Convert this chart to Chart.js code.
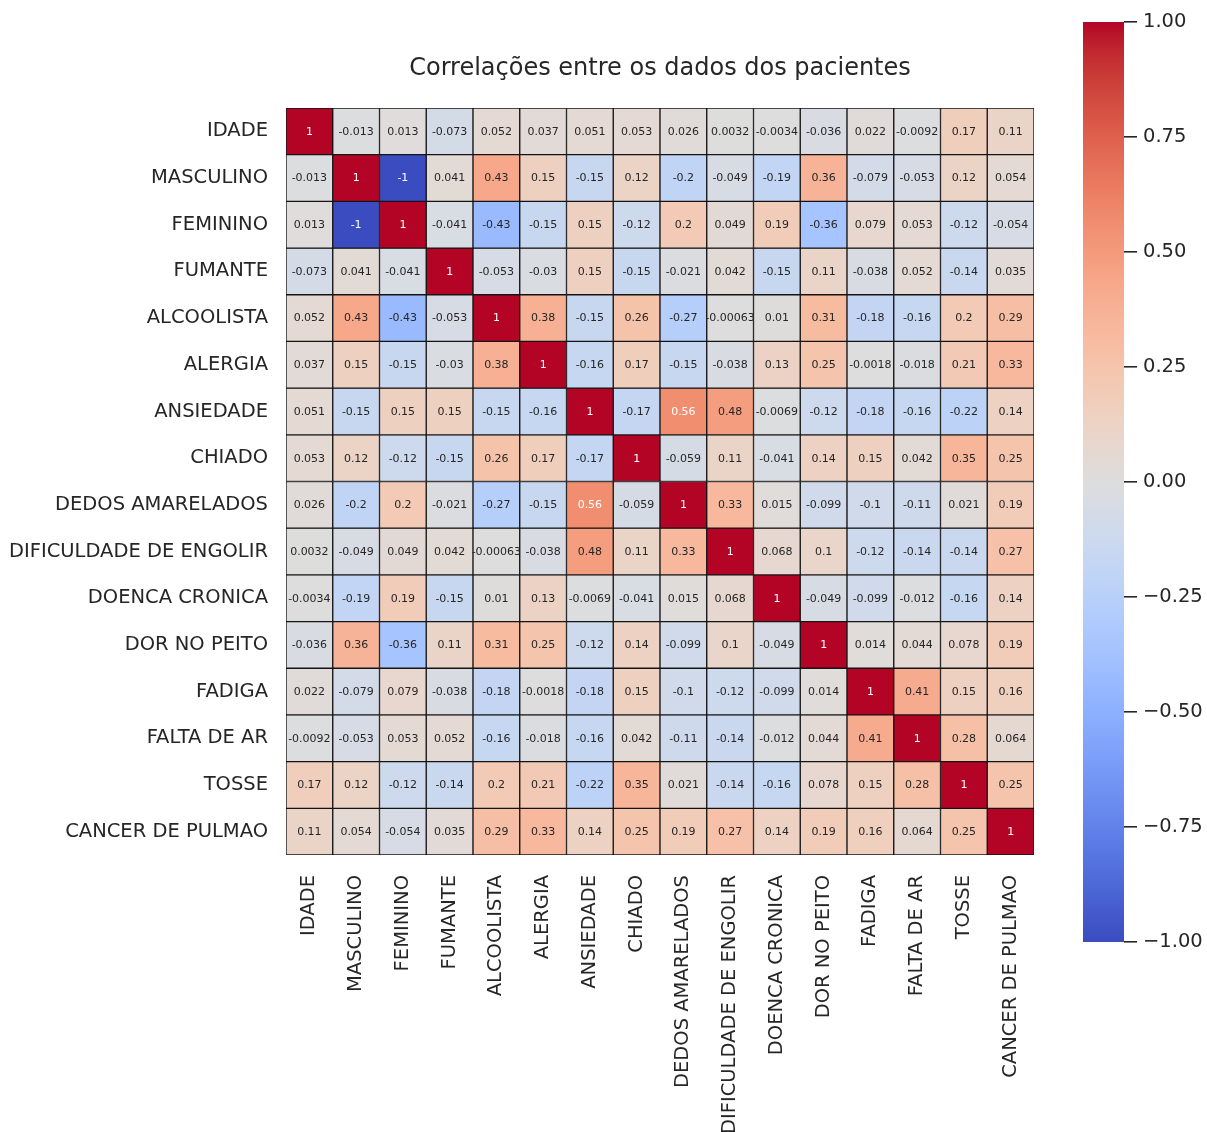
<!DOCTYPE html>
<html lang="pt">
<head>
<meta charset="utf-8">
<title>Correlações entre os dados dos pacientes</title>
<script src="https://cdn.jsdelivr.net/npm/chart.js@4.4.1/dist/chart.umd.min.js"></script>
<style>
  html, body { margin: 0; padding: 0; background: #ffffff; }
  #wrap { position: relative; width: 1207px; height: 1132px; overflow: hidden; background: #ffffff; }
  #heat { position: absolute; left: 0; top: 0; }
  #cbar { position: absolute; left: 1040px; top: 0; }
</style>
</head>
<body>
<div id="wrap">
  <canvas id="heat" width="1207" height="1132"></canvas>
  <canvas id="cbar" width="167" height="970"></canvas>
</div>
<script>
// Variables of the patient data set (row / column order of the matrix)
const variables = [
  'IDADE', 'MASCULINO', 'FEMININO', 'FUMANTE', 'ALCOOLISTA', 'ALERGIA',
  'ANSIEDADE', 'CHIADO', 'DEDOS AMARELADOS', 'DIFICULDADE DE ENGOLIR',
  'DOENCA CRONICA', 'DOR NO PEITO', 'FADIGA', 'FALTA DE AR', 'TOSSE',
  'CANCER DE PULMAO'
];

// Pearson correlations, one row per variable
const idade       = [1, -0.013, 0.013, -0.073, 0.052, 0.037, 0.051, 0.053, 0.026, 0.0032, -0.0034, -0.036, 0.022, -0.0092, 0.17, 0.11];
const masculino   = [-0.013, 1, -1, 0.041, 0.43, 0.15, -0.15, 0.12, -0.2, -0.049, -0.19, 0.36, -0.079, -0.053, 0.12, 0.054];
const feminino    = [0.013, -1, 1, -0.041, -0.43, -0.15, 0.15, -0.12, 0.2, 0.049, 0.19, -0.36, 0.079, 0.053, -0.12, -0.054];
const fumante     = [-0.073, 0.041, -0.041, 1, -0.053, -0.03, 0.15, -0.15, -0.021, 0.042, -0.15, 0.11, -0.038, 0.052, -0.14, 0.035];
const alcoolista  = [0.052, 0.43, -0.43, -0.053, 1, 0.38, -0.15, 0.26, -0.27, -0.00063, 0.01, 0.31, -0.18, -0.16, 0.2, 0.29];
const alergia     = [0.037, 0.15, -0.15, -0.03, 0.38, 1, -0.16, 0.17, -0.15, -0.038, 0.13, 0.25, -0.0018, -0.018, 0.21, 0.33];
const ansiedade   = [0.051, -0.15, 0.15, 0.15, -0.15, -0.16, 1, -0.17, 0.56, 0.48, -0.0069, -0.12, -0.18, -0.16, -0.22, 0.14];
const chiado      = [0.053, 0.12, -0.12, -0.15, 0.26, 0.17, -0.17, 1, -0.059, 0.11, -0.041, 0.14, 0.15, 0.042, 0.35, 0.25];
const dedos       = [0.026, -0.2, 0.2, -0.021, -0.27, -0.15, 0.56, -0.059, 1, 0.33, 0.015, -0.099, -0.1, -0.11, 0.021, 0.19];
const dificuldade = [0.0032, -0.049, 0.049, 0.042, -0.00063, -0.038, 0.48, 0.11, 0.33, 1, 0.068, 0.1, -0.12, -0.14, -0.14, 0.27];
const doenca      = [-0.0034, -0.19, 0.19, -0.15, 0.01, 0.13, -0.0069, -0.041, 0.015, 0.068, 1, -0.049, -0.099, -0.012, -0.16, 0.14];
const dorPeito    = [-0.036, 0.36, -0.36, 0.11, 0.31, 0.25, -0.12, 0.14, -0.099, 0.1, -0.049, 1, 0.014, 0.044, 0.078, 0.19];
const fadiga      = [0.022, -0.079, 0.079, -0.038, -0.18, -0.0018, -0.18, 0.15, -0.1, -0.12, -0.099, 0.014, 1, 0.41, 0.15, 0.16];
const faltaAr     = [-0.0092, -0.053, 0.053, 0.052, -0.16, -0.018, -0.16, 0.042, -0.11, -0.14, -0.012, 0.044, 0.41, 1, 0.28, 0.064];
const tosse       = [0.17, 0.12, -0.12, -0.14, 0.2, 0.21, -0.22, 0.35, 0.021, -0.14, -0.16, 0.078, 0.15, 0.28, 1, 0.25];
const cancer      = [0.11, 0.054, -0.054, 0.035, 0.29, 0.33, 0.14, 0.25, 0.19, 0.27, 0.14, 0.19, 0.16, 0.064, 0.25, 1];

const matrix = [idade, masculino, feminino, fumante, alcoolista, alergia, ansiedade, chiado,
                dedos, dificuldade, doenca, dorPeito, fadiga, faltaAr, tosse, cancer];

// Colour bar range and ticks
const colorbarTicks = [-1, -0.75, -0.5, -0.25, 0, 0.25, 0.5, 0.75, 1];

// Diverging "coolwarm" colour map (33 control colours, low -> high)
const COOLWARM = [
  [59,76,192],[68,90,204],[77,104,215],[87,117,225],[98,130,234],[108,142,241],
  [119,154,247],[130,165,251],[141,176,254],[152,185,255],[163,194,255],[174,201,253],
  [184,208,249],[194,213,244],[204,217,238],[213,219,230],[221,221,221],[229,216,209],
  [236,211,197],[241,204,184],[245,196,172],[247,187,160],[247,177,148],[247,166,137],
  [244,154,123],[241,141,112],[236,127,99],[229,112,88],[222,96,77],[213,80,66],
  [203,62,56],[192,40,47],[180,4,38]
];

function coolwarmRGB(v) {
  const t = Math.min(1, Math.max(0, (v + 1) / 2)) * (COOLWARM.length - 1);
  const i = Math.min(Math.floor(t), COOLWARM.length - 2);
  const f = t - i;
  const a = COOLWARM[i], b = COOLWARM[i + 1];
  return a.map((c, k) => Math.round(c + (b[k] - c) * f));
}
function coolwarm(v) {
  const [r, g, b] = coolwarmRGB(v);
  return `rgb(${r},${g},${b})`;
}
// Light text on dark cells, dark text on light cells
function annotationColor(v) {
  const lum = coolwarmRGB(v).map(c => {
    const s = c / 255;
    return s <= 0.03928 ? s / 12.92 : Math.pow((s + 0.055) / 1.055, 2.4);
  });
  const L = 0.2126 * lum[0] + 0.7152 * lum[1] + 0.0722 * lum[2];
  return L > 0.408 ? '#262626' : '#ffffff';
}

const TEXT = '#262626';
Chart.defaults.font.family = "'DejaVu Sans', sans-serif";
Chart.defaults.color = TEXT;

// One floating-bar dataset per matrix row; each bar is one cell
const datasets = matrix.map((row, r) => ({
  label: variables[r],
  data: row.map((v, c) => ({ x: variables[c], y: [r, r + 1], v })),
  backgroundColor: ctx => coolwarm(ctx.raw ? ctx.raw.v : 0),
  borderColor: '#141414',
  borderWidth: 1,
  borderSkipped: false,
  grouped: false,
  categoryPercentage: 1,
  barPercentage: 1
}));

// Writes each cell's correlation value in its centre
const cellLabels = {
  id: 'cellLabels',
  afterDatasetsDraw(chart) {
    const ctx = chart.ctx;
    ctx.save();
    ctx.font = "11px 'DejaVu Sans'";
    ctx.textAlign = 'center';
    ctx.textBaseline = 'middle';
    chart.data.datasets.forEach((ds, r) => {
      chart.getDatasetMeta(r).data.forEach((el, c) => {
        const v = ds.data[c].v;
        const p = el.getProps(['x', 'y', 'base'], true);
        ctx.fillStyle = annotationColor(v);
        ctx.fillText(String(v), p.x, (p.y + p.base) / 2 + 0.5);
      });
    });
    ctx.restore();
  }
};

new Chart(document.getElementById('heat'), {
  type: 'bar',
  data: { labels: variables, datasets },
  plugins: [cellLabels],
  options: {
    responsive: false,
    animation: false,
    layout: { padding: { left: 0, right: 173, top: 0, bottom: 0 } },
    plugins: {
      legend: { display: false },
      tooltip: { enabled: false },
      title: {
        display: true,
        text: 'Correlações entre os dados dos pacientes',
        fullSize: false,
        color: TEXT,
        font: { size: 24, weight: 'normal' },
        padding: { top: 54.6, bottom: 24.6 }
      }
    },
    scales: {
      x: {
        type: 'category',
        offset: true,
        grid: { display: false, drawTicks: false },
        border: { display: false },
        ticks: {
          autoSkip: false, minRotation: 90, maxRotation: 90, padding: 20,
          color: TEXT, font: { size: 19.5 }
        },
        afterFit(scale) { scale.height = 277; }
      },
      y: {
        type: 'linear',
        min: 0, max: variables.length,
        reverse: true,
        display: false
      },
      yl: {
        type: 'category',
        labels: variables,
        offset: true,
        position: 'left',
        grid: { display: false, drawTicks: false },
        border: { display: false },
        ticks: { autoSkip: false, padding: 18, color: TEXT, font: { size: 19.5 } },
        afterFit(scale) { scale.width = 286; }
      }
    }
  }
});

// Colour bar: a single floating bar spanning -1..1 filled with the colour map
new Chart(document.getElementById('cbar'), {
  type: 'bar',
  data: {
    labels: ['r'],
    datasets: [{
      data: [[colorbarTicks[0], colorbarTicks[colorbarTicks.length - 1]]],
      backgroundColor: ctx => {
        const chart = ctx.chart;
        const ys = chart.scales.y;
        if (!chart.chartArea || !ys) return '#dddddd';
        const y0 = ys.getPixelForValue(-1), y1 = ys.getPixelForValue(1);
        const g = chart.ctx.createLinearGradient(0, y0, 0, y1);
        COOLWARM.forEach((c, i) => g.addColorStop(i / (COOLWARM.length - 1), `rgb(${c[0]},${c[1]},${c[2]})`));
        return g;
      },
      borderWidth: 0,
      categoryPercentage: 1,
      barPercentage: 1
    }]
  },
  options: {
    responsive: false,
    animation: false,
    layout: { padding: { left: 43, right: 0, top: 22, bottom: 28 } },
    plugins: { legend: { display: false }, tooltip: { enabled: false }, title: { display: false } },
    scales: {
      x: { display: false, offset: true },
      y: {
        type: 'linear',
        position: 'right',
        min: -1, max: 1,
        grid: { display: true, drawOnChartArea: false, drawTicks: true, tickLength: 13, lineWidth: 1.6, color: TEXT },
        border: { display: false },
        afterBuildTicks(scale) { scale.ticks = colorbarTicks.map(value => ({ value })); },
        ticks: {
          padding: 6,
          color: TEXT,
          font: { size: 19.5 },
          callback: v => (v < 0 ? '\u2212' : '') + Math.abs(v).toFixed(2)
        },
        afterFit(scale) { scale.width = 83; }
      }
    }
  }
});
</script>
</body>
</html>
